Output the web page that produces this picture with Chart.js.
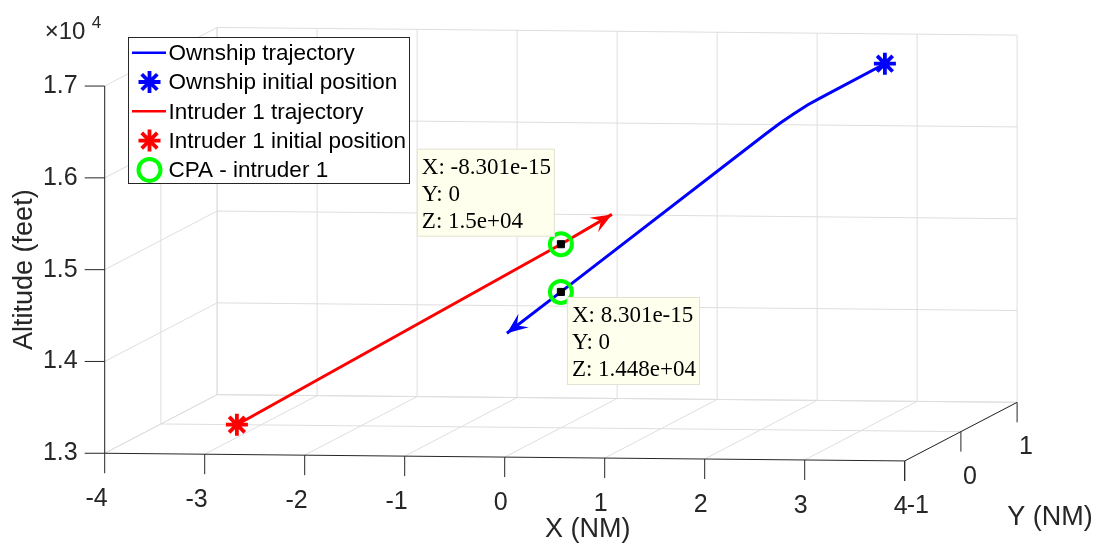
<!DOCTYPE html>
<html>
<head>
<meta charset="utf-8">
<script src="https://cdn.jsdelivr.net/npm/chart.js@4.4.1/dist/chart.umd.min.js"></script>
<style>
    html, body { margin: 0; padding: 0; background: #fff; }
    #contenedor { width: 1100px; height: 545px; position: relative; }
</style>
</head>
<body>
<div id="contenedor"><canvas id="grafico"></canvas></div>
<script>
// Datos (X, Y en NM, Z en pies)
const ownshipX = [3.24, 2.61, 2.47, 2.33, 2.19, 2.05, 0, -0.54];
const ownshipY = [0, 0, 0, 0, 0, 0, 0, 0];
const ownshipZ = [17000, 16630, 16545, 16445, 16340, 16225, 14480, 14025];

const intrusoX = [-3.24, 0, 0.51];
const intrusoY = [0, 0, 0];
const intrusoZ = [13000, 15000, 15330];

const cpaX = [-8.301e-15, 8.301e-15];
const cpaY = [0, 0];
const cpaZ = [15000, 14480];
const cpaTextos = [
    ['X: -8.301e-15', 'Y: 0', 'Z: 1.5e+04'],
    ['X: 8.301e-15', 'Y: 0', 'Z: 1.448e+04']
];

const ticksX = [-4, -3, -2, -1, 0, 1, 2, 3, 4];
const ticksY = [-1, 0, 1];
const ticksZ = [13000, 14000, 15000, 16000, 17000];
const etiquetasZ = ['1.3', '1.4', '1.5', '1.6', '1.7'];

// Vista 3D: proyección oblicua medida sobre la imagen
const vista = { yEnX: 0.562, yEnZ: 319.2, xEnZ: -10.46 };
function proyectar(x, y, z) {
    return { x: x + vista.yEnX * (y + 1), y: z + vista.xEnZ * x + vista.yEnZ * (y + 1) };
}

const puntosOwn = ownshipX.map((x, i) => proyectar(x, ownshipY[i], ownshipZ[i]));
const puntosInt = intrusoX.map((x, i) => proyectar(x, intrusoY[i], intrusoZ[i]));
const puntosCpa = cpaX.map((x, i) => proyectar(x, cpaY[i], cpaZ[i]));

const AZUL = '#0000ff', ROJO = '#ff0000', VERDE = '#00ff00';
const EJE = '#262626', REJILLA = '#dedede';
const FUENTE = '"Liberation Sans", Arial, Helvetica, sans-serif';

function pixel(chart, x, y, z) {
    const p = proyectar(x, y, z);
    return [chart.scales.x.getPixelForValue(p.x), chart.scales.y.getPixelForValue(p.y)];
}

function linea(ctx, a, b) {
    ctx.beginPath();
    ctx.moveTo(a[0], a[1]);
    ctx.lineTo(b[0], b[1]);
    ctx.stroke();
}

// Caja 3D: rejilla en piso y paredes, ejes y marcas
const caja = {
    id: 'caja',
    beforeDatasetsDraw(chart) {
        const ctx = chart.ctx;
        const P = (x, y, z) => pixel(chart, x, y, z);
        const xMin = ticksX[0], xMax = ticksX[ticksX.length - 1];
        const yMin = ticksY[0], yMax = ticksY[ticksY.length - 1];
        const zMin = ticksZ[0], zMax = ticksZ[ticksZ.length - 1];
        ctx.save();
        ctx.lineWidth = 1;
        ctx.strokeStyle = REJILLA;
        // piso
        ticksX.forEach(x => linea(ctx, P(x, yMin, zMin), P(x, yMax, zMin)));
        ticksY.slice(1).forEach(y => linea(ctx, P(xMin, y, zMin), P(xMax, y, zMin)));
        // pared del fondo
        ticksX.forEach(x => linea(ctx, P(x, yMax, zMin), P(x, yMax, zMax)));
        ticksZ.forEach(z => linea(ctx, P(xMin, yMax, z), P(xMax, yMax, z)));
        // pared izquierda
        ticksY.forEach(y => linea(ctx, P(xMin, y, zMin), P(xMin, y, zMax)));
        ticksZ.forEach(z => linea(ctx, P(xMin, yMin, z), P(xMin, yMax, z)));

        // ejes
        ctx.strokeStyle = EJE;
        linea(ctx, P(xMin, yMin, zMin), P(xMax, yMin, zMin));
        linea(ctx, P(xMax, yMin, zMin), P(xMax, yMax, zMin));
        linea(ctx, P(xMin, yMin, zMin), P(xMin, yMin, zMax));

        ctx.fillStyle = EJE;
        ctx.font = '25px ' + FUENTE;
        ctx.textBaseline = 'middle';
        ticksX.forEach(x => {
            const p = P(x, yMin, zMin);
            linea(ctx, p, [p[0], p[1] + 20]);
            ctx.textAlign = 'right';
            ctx.fillText(String(x), p[0] + 3, p[1] + 46);
        });
        ticksY.forEach(y => {
            const p = P(xMax, y, zMin);
            linea(ctx, p, [p[0], p[1] + 20]);
            ctx.textAlign = 'left';
            ctx.fillText(String(y), p[0] + 2, p[1] + 45);
        });
        ticksZ.forEach((z, i) => {
            const p = P(xMin, yMin, z);
            linea(ctx, p, [p[0] - 20, p[1]]);
            ctx.textAlign = 'right';
            ctx.fillText(etiquetasZ[i], p[0] - 27, p[1]);
        });

        // multiplicador ×10^4
        const tope = P(xMin, yMin, zMax);
        ctx.textAlign = 'left';
        ctx.font = '24px ' + FUENTE;
        ctx.fillText('\u00d710', tope[0] - 60, tope[1] - 54);
        ctx.font = '17px ' + FUENTE;
        ctx.fillText('4', tope[0] - 13, tope[1] - 63);

        // títulos de ejes
        ctx.font = '27px ' + FUENTE;
        ctx.textAlign = 'center';
        const mx = P(0, yMin, zMin);
        ctx.fillText('X (NM)', mx[0] + 83, mx[1] + 72);
        const my = P(xMax, 0, zMin);
        ctx.fillText('Y (NM)', my[0] + 89, my[1] + 86);
        const mz = P(xMin, yMin, 15000);
        ctx.translate(mz[0] - 80, mz[1]);
        ctx.rotate(-Math.PI / 2);
        ctx.fillText('Altitude (feet)', 0, 0);
        ctx.restore();
    }
};

// Puntas de flecha al final de cada trayectoria
function punta(ctx, desde, hasta, color) {
    const ang = Math.atan2(hasta[1] - desde[1], hasta[0] - desde[0]);
    const largo = 21, ancho = 8.5;
    ctx.save();
    ctx.translate(hasta[0], hasta[1]);
    ctx.rotate(ang);
    ctx.beginPath();
    ctx.moveTo(0, 0);
    ctx.lineTo(-largo, -ancho);
    ctx.lineTo(-largo * 0.6, 0);
    ctx.lineTo(-largo, ancho);
    ctx.closePath();
    ctx.fillStyle = color;
    ctx.fill();
    ctx.restore();
}

const flechas = {
    id: 'flechas',
    afterDatasetsDraw(chart) {
        [[0, AZUL], [2, ROJO]].forEach(([idx, color]) => {
            const pts = chart.getDatasetMeta(idx).data;
            const a = pts[pts.length - 2], b = pts[pts.length - 1];
            punta(chart.ctx, [a.x, a.y], [b.x, b.y], color);
        });
    }
};

// Cuadros de datos (datatips) junto a los CPA
const datatips = {
    id: 'datatips',
    afterDraw(chart) {
        const ctx = chart.ctx;
        const pts = chart.getDatasetMeta(4).data;
        ctx.save();
        ctx.font = '23px "Liberation Serif", "Times New Roman", serif';
        ctx.textBaseline = 'middle';
        ctx.textAlign = 'left';
        cpaTextos.forEach((filas, i) => {
            const ancho = Math.max(...filas.map(t => ctx.measureText(t).width)) + 9;
            const alto = 88;
            const p = pts[i];
            const x0 = i === 0 ? p.x - 6 - ancho : p.x + 6;
            const y0 = i === 0 ? p.y - 7.5 - alto : p.y + 5;
            ctx.fillStyle = '#ffffee';
            ctx.fillRect(x0, y0, ancho, alto);
            ctx.strokeStyle = '#e2e2d2';
            ctx.lineWidth = 1;
            ctx.strokeRect(x0 + 0.5, y0 + 0.5, ancho - 1, alto - 1);
            ctx.fillStyle = '#000';
            filas.forEach((t, j) => ctx.fillText(t, x0 + 5, y0 + 19.5 + j * 27));
        });
        ctx.restore();
    }
};

// Leyenda estilo MATLAB
function marcador(ctx, estilo, x, y, color, radio, grosor) {
    ctx.save();
    ctx.strokeStyle = color;
    ctx.lineWidth = grosor;
    ctx.beginPath();
    if (estilo === 'circle') {
        ctx.arc(x, y, radio, 0, Math.PI * 2);
    } else {
        for (let k = 0; k < 4; k++) {
            const a = k * Math.PI / 4;
            ctx.moveTo(x - Math.cos(a) * radio, y - Math.sin(a) * radio);
            ctx.lineTo(x + Math.cos(a) * radio, y + Math.sin(a) * radio);
        }
    }
    ctx.stroke();
    ctx.restore();
}

const leyenda = {
    id: 'leyenda',
    afterDraw(chart) {
        const ctx = chart.ctx;
        const caja = { x: 128, y: 37, w: 281, h: 146 };
        ctx.save();
        ctx.fillStyle = '#fff';
        ctx.fillRect(caja.x, caja.y, caja.w, caja.h);
        ctx.strokeStyle = EJE;
        ctx.lineWidth = 1;
        ctx.strokeRect(caja.x + 0.5, caja.y + 0.5, caja.w, caja.h);
        ctx.font = '22.5px ' + FUENTE;
        ctx.textBaseline = 'middle';
        ctx.textAlign = 'left';
        chart.data.datasets.slice(0, 5).forEach((ds, i) => {
            const y = 52.7 + i * 29.3;
            if (ds.showLine) {
                ctx.strokeStyle = ds.borderColor;
                ctx.lineWidth = 2.5;
                linea(ctx, [132, y], [166, y]);
            } else {
                marcador(ctx, ds.pointStyle, 149.5, y, ds.pointBorderColor, ds.pointRadius, ds.pointBorderWidth);
            }
            ctx.fillStyle = '#000';
            ctx.fillText(ds.label, 168.5, y + 1);
        });
        ctx.restore();
    }
};

new Chart(document.getElementById('grafico'), {
    type: 'scatter',
    data: {
        datasets: [
            { label: 'Ownship trajectory', data: puntosOwn, showLine: true, borderColor: AZUL, borderWidth: 3, pointRadius: 0, order: 5 },
            { label: 'Ownship initial position', data: [puntosOwn[0]], pointStyle: 'star', pointRadius: 11, pointBorderWidth: 3.8, pointBorderColor: AZUL, pointBackgroundColor: AZUL, order: 3 },
            { label: 'Intruder 1 trajectory', data: puntosInt, showLine: true, borderColor: ROJO, borderWidth: 3, pointRadius: 0, order: 5 },
            { label: 'Intruder 1 initial position', data: [puntosInt[0]], pointStyle: 'star', pointRadius: 11, pointBorderWidth: 3.8, pointBorderColor: ROJO, pointBackgroundColor: ROJO, order: 3 },
            { label: 'CPA - intruder 1', data: puntosCpa, pointStyle: 'circle', pointRadius: 11, pointBorderWidth: 4, pointBorderColor: VERDE, pointBackgroundColor: 'rgba(0,0,0,0)', order: 2 },
            { label: 'datatip', data: puntosCpa, pointStyle: 'rect', pointRadius: 5, pointBorderWidth: 1, pointBorderColor: '#000', pointBackgroundColor: '#000', order: 1 }
        ]
    },
    options: {
        responsive: true,
        maintainAspectRatio: false,
        animation: false,
        events: [],
        layout: { padding: 0, autoPadding: false },
        scales: {
            x: { type: 'linear', display: false, min: -5.047, max: 5.953 },
            y: { type: 'linear', display: false, min: 12042.5, max: 17979.3 }
        },
        plugins: { legend: { display: false }, tooltip: { enabled: false } }
    },
    plugins: [caja, flechas, datatips, leyenda]
});
</script>
</body>
</html>
